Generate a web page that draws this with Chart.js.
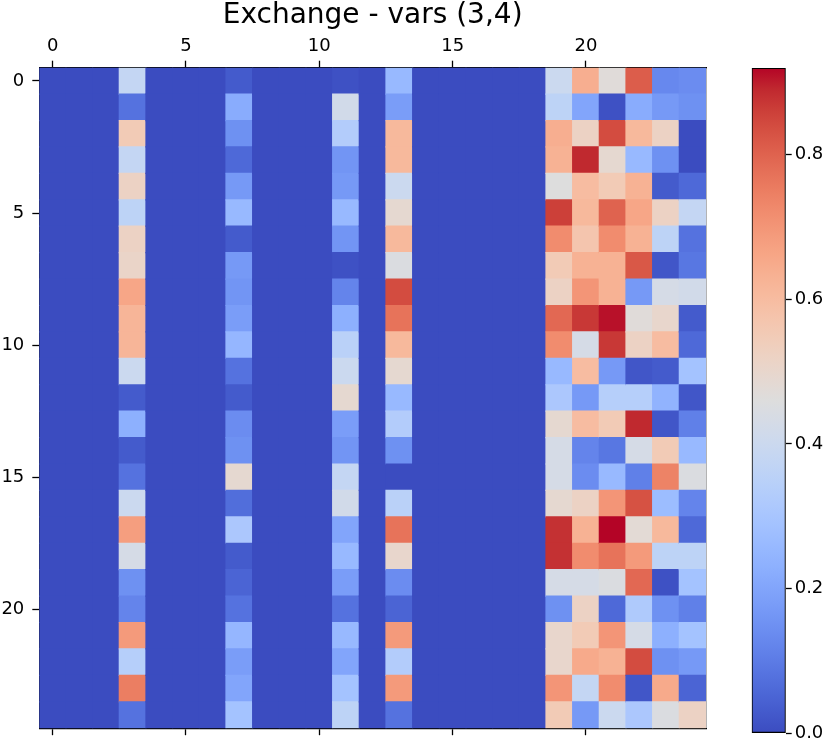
<!DOCTYPE html>
<html>
<head>
<meta charset="utf-8">
<script src="https://cdn.jsdelivr.net/npm/chart.js@4/dist/chart.umd.min.js"></script>
<style>
  html, body { margin: 0; padding: 0; background: #fff; }
  #wrap { position: relative; width: 831px; height: 747px; }
  .box { position: absolute; top: 0; height: 747px; }
</style>
</head>
<body>
<div id="wrap">
  <div class="box" style="left:0;width:720px"><canvas id="heat"></canvas></div>
  <div class="box" style="left:720px;width:111px"><canvas id="cbar"></canvas></div>
</div>
<script>
// grid size and ticks
const nRows = 25;
const nCols = 25;
const xTicks = [0, 5, 10, 15, 20];
const yTicks = [0, 5, 10, 15, 20];
const cbarTicks = [0, 0.2, 0.4, 0.6, 0.8];
const vmax = 0.92;

// columns that are not zero (all other columns are 0)
const col3  = [0.38,0.08,0.55,0.38,0.52,0.36,0.52,0.51,0.66,0.62,0.62,0.40,0.03,0.23,0.03,0.08,0.40,0.68,0.43,0.15,0.12,0.69,0.34,0.75,0.08];
const col7  = [0.03,0.22,0.15,0.06,0.17,0.26,0.03,0.17,0.16,0.18,0.25,0.08,0.03,0.14,0.15,0.49,0.07,0.31,0.03,0.05,0.08,0.25,0.18,0.20,0.29];
const col11 = [0.01,0.42,0.33,0.16,0.17,0.26,0.16,0.01,0.12,0.23,0.35,0.40,0.49,0.18,0.16,0.38,0.42,0.20,0.26,0.18,0.08,0.26,0.20,0.29,0.36];
const col13 = [0.26,0.18,0.61,0.61,0.40,0.49,0.61,0.45,0.84,0.77,0.61,0.49,0.26,0.33,0.15,0.00,0.35,0.77,0.50,0.14,0.05,0.69,0.33,0.69,0.08];
const col19 = [0.40,0.36,0.64,0.63,0.46,0.86,0.72,0.55,0.52,0.79,0.72,0.26,0.31,0.49,0.43,0.43,0.49,0.88,0.88,0.43,0.15,0.50,0.50,0.70,0.55];
const col20 = [0.64,0.20,0.52,0.89,0.60,0.61,0.57,0.63,0.70,0.87,0.43,0.60,0.17,0.60,0.12,0.14,0.52,0.63,0.72,0.43,0.52,0.55,0.65,0.38,0.17];
const col21 = [0.47,0.01,0.84,0.49,0.55,0.80,0.72,0.63,0.63,0.91,0.87,0.17,0.34,0.55,0.09,0.26,0.70,0.92,0.77,0.45,0.06,0.70,0.63,0.72,0.40];
const col22 = [0.81,0.22,0.61,0.26,0.63,0.66,0.63,0.82,0.17,0.47,0.52,0.02,0.34,0.89,0.43,0.11,0.83,0.48,0.69,0.79,0.32,0.43,0.84,0.02,0.31];
const col23 = [0.13,0.17,0.52,0.15,0.03,0.52,0.36,0.02,0.43,0.50,0.60,0.03,0.24,0.02,0.55,0.74,0.27,0.61,0.36,0.01,0.15,0.23,0.15,0.65,0.45];
const col24 = [0.14,0.15,0.00,0.00,0.06,0.38,0.08,0.09,0.42,0.03,0.06,0.29,0.02,0.11,0.26,0.45,0.12,0.06,0.36,0.29,0.11,0.29,0.17,0.05,0.52];
const activeCols = { 3: col3, 7: col7, 11: col11, 13: col13, 19: col19, 20: col20, 21: col21, 22: col22, 23: col23, 24: col24 };

// coolwarm colormap stops
const COOLWARM = [
  [59,76,192],[68,90,204],[77,104,215],[87,117,225],[98,130,234],[108,142,241],[119,154,247],[130,165,251],
  [141,176,254],[152,185,255],[163,194,255],[174,201,253],[184,208,249],[194,213,244],[204,217,238],[213,219,230],
  [221,221,221],[229,216,209],[236,211,197],[241,204,184],[245,196,172],[247,187,159],[247,177,147],[247,166,134],
  [244,154,123],[241,141,111],[236,127,99],[229,112,88],[222,96,77],[213,80,66],[203,62,56],[192,40,47],[180,4,38]
];
function cmap(t) {
  t = Math.max(0, Math.min(1, t)) * (COOLWARM.length - 1);
  const i = Math.min(Math.floor(t), COOLWARM.length - 2);
  const f = t - i;
  const a = COOLWARM[i], b = COOLWARM[i + 1];
  const c = a.map((v, k) => Math.round(v + (b[k] - v) * f));
  return `rgb(${c[0]},${c[1]},${c[2]})`;
}

const cells = [];
for (let j = 0; j < nCols; j++) {
  for (let i = 0; i < nRows; i++) {
    const v = activeCols[j] ? activeCols[j][i] : 0;
    cells.push({ x: j, y: [i - 0.5, i + 0.5], v });
  }
}

const tickFont = { family: 'DejaVu Sans', size: 18 };
const black = '#000';
const setTicks = list => s => { s.ticks = list.map(v => ({ value: v })); };

new Chart(document.getElementById('heat'), {
  type: 'bar',
  data: {
    datasets: [{
      xAxisID: 'x',
      yAxisID: 'y',
      data: cells,
      backgroundColor: ctx => ctx.raw ? cmap(ctx.raw.v / vmax) : null,
      borderWidth: 0,
      inflateAmount: 0.6,
      barPercentage: 1,
      categoryPercentage: 1
    }]
  },
  options: {
    responsive: true,
    maintainAspectRatio: false,
    animation: false,
    layout: { padding: { left: 0, top: 0, right: 14, bottom: 0 } },
    plugins: {
      legend: { display: false },
      tooltip: { enabled: false },
      title: {
        display: true,
        text: 'Exchange - vars (3,4)',
        color: black,
        fullSize: false,
        font: { family: 'DejaVu Sans', size: 28, weight: 'normal', lineHeight: 0.93 },
        padding: { top: 2.5, bottom: 0 }
      }
    },
    scales: {
      x: {
        type: 'linear', position: 'top', min: -0.5, max: 24.5, offset: false,
        afterBuildTicks: setTicks(xTicks),
        ticks: { color: black, font: tickFont, padding: 4, maxRotation: 0, autoSkip: false },
        grid: { offset: false, drawOnChartArea: false, color: black, tickLength: 7, tickWidth: 1.3 },
        border: { color: black, width: 1.3 },
        afterFit: s => { s.height = 39.16; }
      },
      xb: {
        type: 'linear', axis: 'x', position: 'bottom', min: -0.5, max: 24.5, offset: false,
        afterBuildTicks: setTicks(xTicks),
        ticks: { display: false },
        grid: { offset: false, drawOnChartArea: false, color: black, tickLength: 7, tickWidth: 1.3 },
        border: { color: black, width: 1.3 },
        afterFit: s => { s.height = 12.3; }
      },
      y: {
        type: 'linear', position: 'left', reverse: true, min: -0.5, max: 24.5,
        afterBuildTicks: setTicks(yTicks),
        ticks: { color: black, font: tickFont, padding: 8, autoSkip: false },
        grid: { drawOnChartArea: false, color: black, tickLength: 7, tickWidth: 1.3 },
        border: { color: black, width: 1.3 },
        afterFit: s => { s.width = 39.3; }
      },
      yr: {
        type: 'linear', axis: 'y', position: 'right', min: -0.5, max: 24.5,
        ticks: { display: false },
        grid: { drawOnChartArea: false, drawTicks: false },
        border: { color: black, width: 1.3 },
        afterFit: s => { s.width = 0; }
      }
    }
  }
});

// colorbar
new Chart(document.getElementById('cbar'), {
  type: 'bar',
  data: {
    labels: [''],
    datasets: [{
      data: [vmax],
      backgroundColor: ctx => {
        const area = ctx.chart.chartArea;
        if (!area) return null;
        const g = ctx.chart.ctx.createLinearGradient(0, area.bottom, 0, area.top);
        COOLWARM.forEach((c, k) => g.addColorStop(k / (COOLWARM.length - 1), `rgb(${c[0]},${c[1]},${c[2]})`));
        return g;
      },
      borderColor: black,
      borderWidth: 1.3,
      borderSkipped: false,
      barPercentage: 1,
      categoryPercentage: 1
    }]
  },
  options: {
    responsive: true,
    maintainAspectRatio: false,
    animation: false,
    layout: { padding: { left: 31.7, top: 68, right: 0, bottom: 12.3 } },
    plugins: { legend: { display: false }, tooltip: { enabled: false } },
    scales: {
      x: { display: false },
      y: {
        position: 'right', min: 0, max: vmax,
        afterBuildTicks: setTicks(cbarTicks),
        ticks: { color: black, font: tickFont, padding: 3, callback: v => v.toFixed(1) },
        grid: { drawOnChartArea: false, color: black, tickLength: 6, tickWidth: 1.3 },
        border: { display: false },
        afterFit: s => { s.width = 45.3; }
      }
    }
  }
});
</script>
</body>
</html>
